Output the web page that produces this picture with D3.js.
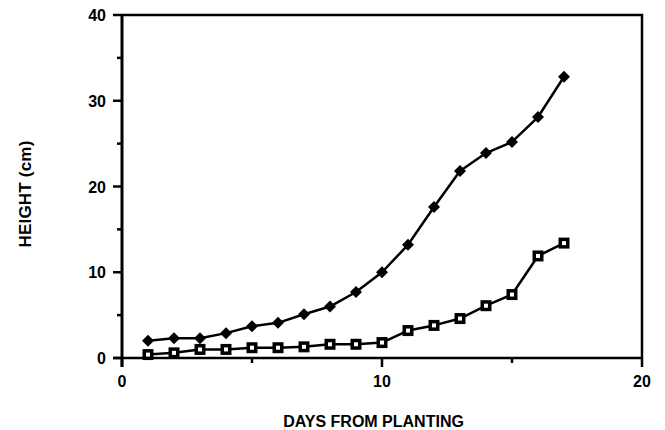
<!DOCTYPE html>
<html>
<head>
<meta charset="utf-8">
<script src="https://cdn.jsdelivr.net/npm/d3@7"></script>
<style>
  html, body { margin: 0; padding: 0; background: #fff; }
  svg { display: block; }
  text { font-family: "Liberation Sans", Arial, Helvetica, sans-serif; fill: #000; }
</style>
</head>
<body>
<svg id="chart" width="665" height="430"></svg>
<script>
// Plant height over the days after planting, two treatments
const days = [1, 2, 3, 4, 5, 6, 7, 8, 9, 10, 11, 12, 13, 14, 15, 16, 17];
const heightDiamond = [2.0, 2.3, 2.3, 2.9, 3.7, 4.1, 5.1, 6.0, 7.7, 10.0, 13.2, 17.6, 21.8, 23.9, 25.2, 28.1, 32.8];
const heightSquare  = [0.4, 0.6, 1.0, 1.0, 1.2, 1.2, 1.3, 1.6, 1.6, 1.8, 3.2, 3.8, 4.6, 6.1, 7.4, 11.9, 13.4];
const xTickLabels = [0, 10, 20];
const yTickLabels = [0, 10, 20, 30, 40];
const xTitle = "DAYS FROM PLANTING";
const yTitle = "HEIGHT (cm)";

const svg = d3.select("#chart");
const plotLeft = 122, plotRight = 642, plotTop = 15, plotBottom = 358;

const x = d3.scaleLinear().domain([0, 20]).range([plotLeft, plotRight]);
const y = d3.scaleLinear().domain([0, 40]).range([plotBottom, plotTop]);

// Frame: top and right edges
svg.append("path")
  .attr("d", `M${x(0)},${y(40)} H${x(20)} V${y(0)}`)
  .attr("fill", "none").attr("stroke", "#000").attr("stroke-width", 2.5);

// Y axis: major ticks every 10, minor every 5
const yAxis = svg.append("g").attr("transform", `translate(${plotLeft},0)`);
yAxis.append("line").attr("x1", 0).attr("x2", 0).attr("y1", y(0) + 9).attr("y2", y(40))
  .attr("stroke", "#000").attr("stroke-width", 3);
d3.range(0, 41, 5).forEach(v => {
  const major = v % 10 === 0;
  yAxis.append("line").attr("x1", major ? -9 : -5).attr("x2", 0)
    .attr("y1", y(v)).attr("y2", y(v)).attr("stroke", "#000").attr("stroke-width", 2.5);
});
yAxis.selectAll("text.tick").data(yTickLabels).join("text")
  .attr("class", "tick")
  .attr("x", -16).attr("y", d => y(d) + 6)
  .attr("text-anchor", "end")
  .style("font-size", "16px").style("font-weight", "bold")
  .text(d => d);

// X axis: major ticks every 10, minor every 5
const xAxis = svg.append("g").attr("transform", `translate(0,${plotBottom})`);
xAxis.append("line").attr("x1", x(0) - 9).attr("x2", x(20)).attr("y1", 0).attr("y2", 0)
  .attr("stroke", "#000").attr("stroke-width", 2.5);
d3.range(0, 21, 5).forEach(v => {
  const major = v % 10 === 0;
  xAxis.append("line").attr("x1", x(v)).attr("x2", x(v))
    .attr("y1", 0).attr("y2", major ? 9 : 5).attr("stroke", "#000").attr("stroke-width", 2.5);
});
xAxis.selectAll("text.tick").data(xTickLabels).join("text")
  .attr("class", "tick")
  .attr("x", d => x(d)).attr("y", 29)
  .attr("text-anchor", "middle")
  .style("font-size", "16px").style("font-weight", "bold")
  .text(d => d);

// Axis titles
svg.append("text")
  .attr("x", 373.5).attr("y", 426.5)
  .attr("text-anchor", "middle")
  .style("font-size", "16px").style("font-weight", "bold")
  .text(xTitle);
svg.append("text")
  .attr("transform", "translate(31,194) rotate(-90)")
  .attr("text-anchor", "middle")
  .style("font-size", "17px").style("font-weight", "bold").style("letter-spacing", "0.2px")
  .text(yTitle);

// Series lines
const line = d3.line().x(d => x(d[0])).y(d => y(d[1]));
const sq = days.map((d, i) => [d, heightSquare[i]]);
const di = days.map((d, i) => [d, heightDiamond[i]]);

[sq, di].forEach(pts => {
  svg.append("path").datum(pts).attr("d", line)
    .attr("fill", "none").attr("stroke", "#000").attr("stroke-width", 2.5)
    .attr("stroke-linejoin", "round");
});

// Filled diamond markers
svg.selectAll("path.diamond").data(di).join("path")
  .attr("class", "diamond")
  .attr("transform", d => `translate(${x(d[0])},${y(d[1])}) rotate(45)`)
  .attr("d", d3.symbol().type(d3.symbolSquare).size(72))
  .attr("fill", "#000");

// Square markers: black outline with a small white centre
svg.selectAll("rect.sq").data(sq).join("rect")
  .attr("class", "sq")
  .attr("x", d => x(d[0]) - 5.5).attr("y", d => y(d[1]) - 5.5)
  .attr("width", 11).attr("height", 11)
  .attr("fill", "#000");
svg.selectAll("rect.sqin").data(sq).join("rect")
  .attr("class", "sqin")
  .attr("x", d => x(d[0]) - 2).attr("y", d => y(d[1]) - 2)
  .attr("width", 4).attr("height", 4)
  .attr("fill", "#fff");
</script>
</body>
</html>
